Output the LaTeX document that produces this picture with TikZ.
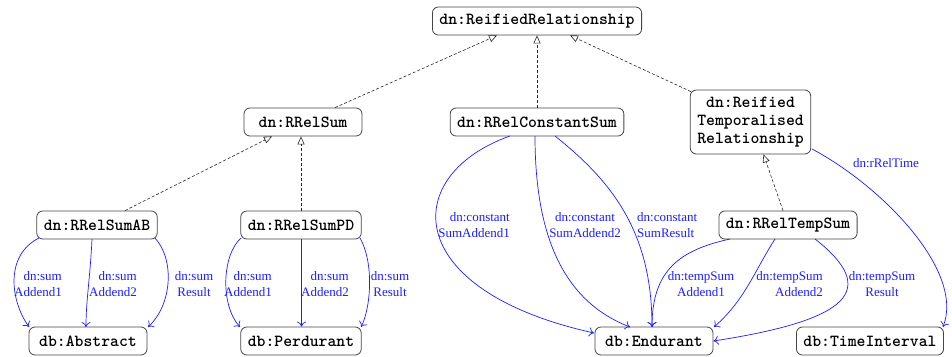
\documentclass[tikz,border=0pt]{standalone}
\usepackage{fontspec}
\setmainfont{Liberation Serif}
\usetikzlibrary{arrows.meta}
\definecolor{relblue}{RGB}{30,30,255}
\definecolor{boxline}{RGB}{70,70,70}
\begin{document}
\begin{tikzpicture}[x=1pt,y=1pt,
  cls/.style={draw=boxline,line width=0.8pt,rounded corners=6pt,fill=white,
    font=\fontsize{16.9}{18}\selectfont\ttfamily\bfseries,
    minimum width=118pt,minimum height=28pt,inner xsep=7pt,inner ysep=4pt,align=center},
  isa/.style={draw=black!85,line width=0.6pt,dash pattern=on 3pt off 2pt,
    -{Triangle[open,length=8pt,width=7pt]}},
  rel/.style={draw=relblue,line width=0.7pt,
    -{Computer Modern Rightarrow[length=5pt,width=9pt]}},
  lbl/.style={text=relblue,font=\fontsize{13}{16}\selectfont,inner sep=0pt},
]
\useasboundingbox (0,0) rectangle (952,-356);

% classes
\node[cls] (rr)  at (537,-21)  {dn:ReifiedRelationship};
\node[cls] (rs)  at (303,-122) {dn:RRelSum};
\node[cls] (rcs) at (537,-122) {dn:RRelConstantSum};
\node[cls,minimum height=64pt] (rtr) at (750.5,-122) {dn:Reified\\Temporalised\\Relationship};
\node[cls] (ab)  at (97,-225)  {dn:RRelSumAB};
\node[cls] (pd)  at (301,-225) {dn:RRelSumPD};
\node[cls] (ts)  at (788,-225) {dn:RRelTempSum};
\node[cls] (abs) at (88,-341)  {db:Abstract};
\node[cls] (per) at (301,-341) {db:Perdurant};
\node[cls] (end) at (654,-341) {db:Endurant};
\node[cls] (ti)  at (870,-341) {db:TimeInterval};

% subclass links
\draw[isa] ([xshift=32pt]rs.north) -- ([xshift=-40pt]rr.south);
\draw[isa] (rcs.north) -- (rr.south);
\draw[isa] ([xshift=1pt,yshift=-2pt]rtr.north west) -- ([xshift=33pt]rr.south);
\draw[isa] ([xshift=28pt]ab.north) -- ([xshift=-31pt]rs.south);
\draw[isa] (pd.north) -- (pd.north |- rs.south);
\draw[isa] ([xshift=-5pt]ts.north) -- ([xshift=13pt]rtr.south);

% sum relations of dn:RRelSumAB
\coordinate (ab1) at (39,-238);
\coordinate (ab2) at (92,-239);
\coordinate (ab3) at (155,-238);
\draw[rel] (ab1) .. controls (5,-255) and (10,-300) .. (29,-327);
\draw[rel] (ab2) .. controls (90,-280) and (86,-300) .. (86,-327);
\draw[rel] (ab3) .. controls (175,-260) and (172,-305) .. (148,-327);
\node[lbl,align=right,anchor=east] (lab1) at (62,-284.5) {dn:sum\\Addend1};
\node[lbl,align=right,anchor=east] (lab2) at (137,-284.5) {dn:sum\\Addend2};
\node[lbl,align=center] (lab3) at (194,-284.5) {dn:sum\\Result};

% sum relations of dn:RRelSumPD
\coordinate (pd1) at (241,-238);
\coordinate (pd3) at (360,-238);
\draw[rel] (pd1) .. controls (222,-255) and (220,-305) .. (240,-327);
\draw[rel] ([xshift=0.5pt]pd.south) -- ([xshift=0.5pt]per.north);
\draw[rel] (pd3) .. controls (375,-265) and (370,-310) .. (361,-327);
\node[lbl,align=right,anchor=east] (lpd1) at (272,-284.5) {dn:sum\\Addend1};
\node[lbl,align=right,anchor=east] (lpd2) at (349,-284.5) {dn:sum\\Addend2};
\node[lbl,align=center] (lpd3) at (390,-284.5) {dn:sum\\Result};

% constant sum relations
\coordinate (c1) at (510,-136);
\coordinate (c2) at (535,-136);
\coordinate (c3) at (555,-136);
\coordinate (etop) at (652,-327);
\draw[rel] (c1) .. controls (400,-175) and (400,-290) .. (594,-333);
\draw[rel] (c2) .. controls (535,-230) and (560,-300) .. (630,-327);
\draw[rel] (c3) .. controls (610,-180) and (652,-230) .. (etop);
\node[lbl,align=right,anchor=east] (lc1) at (510,-224.7) {dn:constant\\SumAddend1};
\node[lbl,align=center] (lc2) at (585,-224.7) {dn:constant\\SumAddend2};
\node[lbl,align=left,anchor=west] (lc3) at (637,-224.7) {dn:constant\\SumResult};

% temporalised sum relations
\coordinate (t1) at (730,-239);
\coordinate (t2) at (775,-239);
\coordinate (t3) at (815,-239);
\draw[rel] (t1) .. controls (680,-250) and (652,-270) .. (etop);
\draw[rel] (t2) .. controls (755,-270) and (745,-300) .. (714,-327);
\draw[rel] (t3) .. controls (880,-290) and (850,-320) .. (end.east);
\node[lbl,align=center] (lt1) at (701,-284) {dn:tempSum\\Addend1};
\node[lbl,align=right,anchor=east] (lt2) at (823,-284) {dn:tempSum\\Addend2};
\node[lbl,align=center] (lt3) at (882,-284) {dn:tempSum\\Result};

% time of the temporalised relationship
\coordinate (rt) at (812,-149);
\draw[rel] (rt) .. controls (880,-185) and (965,-270) .. (943,-327);
\node[lbl] (ltime) at (886,-163) {dn:rRelTime};
\end{tikzpicture}
\end{document}
